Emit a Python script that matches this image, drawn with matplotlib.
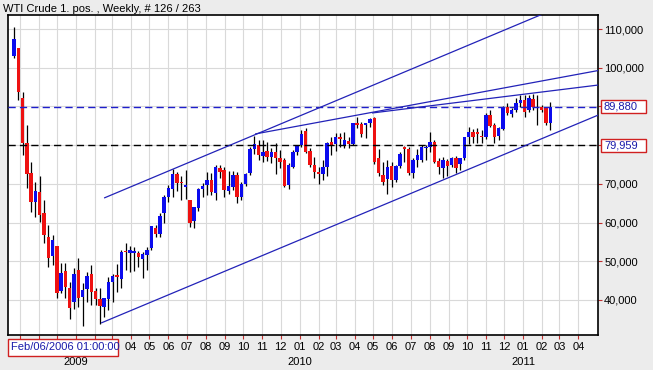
import matplotlib
matplotlib.use("Agg")
import matplotlib.pyplot as plt
import matplotlib.transforms as mtransforms
from matplotlib.patches import Rectangle
from datetime import date

plt.rcParams['font.family'] = ['Liberation Sans', 'DejaVu Sans']
plt.rcParams['lines.scale_dashes'] = False

# ---------------- data ----------------
title = "WTI Crude 1. pos. , Weekly, # 126 / 263"
start_date = date(2008, 9, 22)   # first weekly bar

opens = [103.1, 105.0, 92.1, 80.6, 72.7, 65.2, 67.8, 62.4, 56.35, 51.4,
         53.9, 42.3, 47.5, 43.2, 39.4, 47.7, 40.85, 42.8, 46.7, 42.4,
         40.25, 38.2, 40.25, 44.6, 46.4, 45.4, 52.6, 52.2, 52.2, 52.2,
         50.6, 51.6, 53.3, 58.7, 57.0, 62.4, 66.7, 68.6, 72.5, 70.6,
         69.3, 65.8, 60.5, 63.7, 68.6, 69.7, 71.0, 67.7, 74.0, 73.6,
         68.2, 69.1, 72.3, 66.7, 70.0, 72.7, 78.9, 80.0, 77.2, 78.6,
         76.9, 78.3, 76.6, 76.2, 69.7, 74.4, 78.3, 80.0, 83.7, 78.6,
         74.9, 73.1, 72.5, 74.4, 80.9, 80.3, 82.0, 80.0, 81.1, 80.3,
         85.8, 85.5, 85.2, 85.6, 86.9, 76.6, 72.3, 71.2, 74.6, 71.0,
         74.6, 79.4, 78.9, 72.7, 76.2, 76.2, 79.2, 79.4, 80.9, 76.0,
         74.0, 76.0, 74.9, 76.8, 75.1, 76.8, 82.2, 83.5, 83.5, 82.2,
         82.0, 87.8, 85.2, 82.4, 84.1, 89.9, 88.0, 89.2, 90.8, 91.7,
         89.2, 91.8, 89.9, 89.9, 89.5, 85.8]
highs = [110.6, 105.2, 93.6, 85.2, 75.7, 70.5, 72.0, 65.8, 59.4, 56.8,
         53.9, 49.5, 49.5, 44.7, 48.2, 50.8, 44.3, 47.3, 49.0, 43.2,
         43.0, 40.6, 46.0, 46.6, 49.3, 52.9, 54.8, 54.0, 53.8, 52.7,
         52.3, 53.8, 59.1, 59.4, 62.4, 67.1, 69.7, 73.8, 73.1, 71.9,
         73.6, 65.8, 64.1, 68.8, 70.1, 73.1, 72.7, 74.9, 74.9, 74.4,
         73.4, 73.4, 73.1, 70.6, 72.7, 79.6, 82.4, 81.3, 81.3, 80.9,
         79.2, 80.6, 78.7, 76.6, 75.5, 78.7, 80.0, 83.9, 84.3, 79.2,
         77.0, 74.4, 76.2, 80.9, 82.2, 83.2, 83.2, 83.5, 82.2, 85.8,
         87.3, 86.1, 85.8, 86.9, 87.3, 78.9, 75.7, 76.2, 75.7, 74.9,
         78.3, 79.8, 79.4, 76.6, 78.9, 80.0, 80.0, 83.5, 81.3, 76.8,
         77.0, 76.3, 77.0, 77.2, 76.8, 82.2, 84.6, 84.1, 84.3, 83.9,
         88.2, 89.1, 85.8, 84.8, 90.1, 91.0, 89.5, 92.1, 92.9, 92.9,
         92.9, 93.2, 92.9, 90.4, 89.9, 91.2]
lows = [102.4, 91.7, 77.5, 68.8, 62.8, 61.5, 60.2, 54.6, 48.4, 49.0,
        40.6, 41.7, 40.4, 35.1, 37.7, 38.3, 33.4, 39.6, 38.7, 38.7,
        33.7, 35.7, 37.4, 39.6, 42.1, 43.0, 47.7, 47.3, 47.6, 48.4,
        45.8, 47.7, 52.9, 56.2, 56.2, 59.8, 65.4, 66.7, 68.2, 65.8,
        66.0, 58.8, 58.5, 63.0, 66.7, 67.1, 67.1, 65.8, 71.4, 66.7,
        67.5, 68.4, 65.0, 65.7, 69.4, 72.3, 77.7, 76.2, 75.7, 76.0,
        75.3, 72.5, 74.0, 69.1, 68.6, 74.0, 77.5, 79.6, 77.9, 74.4,
        71.4, 70.0, 71.0, 71.9, 77.5, 78.6, 79.6, 79.2, 79.2, 80.0,
        84.3, 82.2, 81.8, 84.8, 75.1, 72.0, 69.7, 67.4, 69.3, 70.6,
        74.0, 75.7, 72.3, 71.4, 74.4, 75.7, 76.2, 78.3, 75.3, 72.5,
        71.4, 71.9, 74.4, 72.7, 73.7, 76.2, 80.3, 80.5, 80.5, 80.5,
        81.5, 84.6, 80.5, 81.3, 83.9, 87.8, 87.2, 88.6, 89.9, 87.3,
        88.6, 89.1, 85.2, 88.6, 85.2, 83.9]
closes = [107.4, 93.6, 80.6, 72.5, 65.2, 68.2, 61.95, 56.8, 50.75, 55.5,
          41.7, 46.9, 43.4, 38.0, 46.8, 40.6, 42.6, 46.2, 42.1, 40.2,
          38.5, 40.4, 44.7, 46.2, 46.0, 52.3, 52.3, 52.9, 52.7, 51.0,
          51.9, 52.9, 59.1, 57.0, 61.7, 66.7, 68.8, 72.5, 70.3, 70.1,
          69.6, 60.0, 64.1, 68.6, 69.4, 71.0, 68.0, 74.4, 73.1, 68.4,
          69.4, 72.3, 66.7, 70.0, 72.5, 78.9, 80.2, 77.5, 78.1, 76.9,
          78.1, 76.6, 75.7, 69.4, 74.9, 78.3, 79.8, 83.0, 78.3, 74.9,
          73.1, 72.5, 74.4, 80.5, 80.0, 82.2, 81.6, 81.3, 80.3, 85.6,
          85.2, 82.9, 85.6, 86.7, 75.7, 72.7, 70.6, 74.4, 71.0, 74.6,
          77.7, 78.9, 72.7, 76.2, 77.5, 79.6, 79.6, 80.9, 75.7, 74.3,
          76.2, 74.6, 76.6, 74.0, 76.6, 82.0, 83.5, 82.2, 83.0, 82.0,
          87.8, 84.9, 82.2, 84.3, 89.8, 88.2, 89.1, 91.0, 91.7, 88.6,
          92.1, 89.8, 89.5, 89.1, 85.6, 89.9]

# horizontal price levels
level_blue = 89.88
level_black = 79.959
level_blue_label = "89,880"
level_black_label = "79,959"

# trend lines: (bar_start, price_start, bar_end, price_end)
trend_upper = (21.0, 66.34, 136.2, 119.9)
trend_lower = (20.3, 34.05, 136.2, 87.78)
trend_top1 = (56.2, 82.88, 136.2, 99.28)
trend_top2 = (83.45, 88.3, 136.2, 95.53)

y_ticks = [40, 50, 60, 70, 80, 90, 100, 110]
y_tick_labels = ["40,000", "50,000", "60,000", "70,000", "", "", "100,000", "110,000"]
first_labeled_month = (2009, 4)
corner_label = "Feb/06/2006 01:00:00"

# ---------------- layout ----------------
W, H = 653, 370
fig = plt.figure(figsize=(W / 100, H / 100), dpi=100, facecolor='#ECECEC')
ax = fig.add_axes([8 / W, 1 - 335 / H, 590 / W, 320 / H])
ax.set_facecolor('white')
ax.set_xlim(-1.4, 136.13)
ax.set_ylim(30.95, 113.62)

def px(x, y):
    return x / W, 1 - y / H

# month positions (continuous time, in bar units)
months = []
y_, m_ = 2008, 10
while (y_, m_) <= (2011, 4):
    months.append((y_, m_))
    m_ += 1
    if m_ > 12:
        m_ = 1
        y_ += 1
month_pos = [(date(yy, mm, 1) - start_date).days / 7.0 for yy, mm in months]
month_labels = [f"{mm:02d}" if (yy, mm) >= first_labeled_month else "" for yy, mm in months]

ax.set_xticks(month_pos)
ax.set_xticklabels(month_labels)
ax.set_yticks(y_ticks)
ax.set_yticklabels(y_tick_labels)
ax.yaxis.tick_right()
ax.tick_params(axis='both', colors='#C03030', length=3, width=0.8, labelsize=8,
               labelcolor='black', direction='out')
ax.tick_params(axis='y', pad=1.5)
ax.tick_params(axis='x', pad=2)
ax.grid(True, color='#D9D9D9', linewidth=0.8, zorder=0)
ax.set_axisbelow(True)
for s in ax.spines.values():
    s.set_color('black')
    s.set_linewidth(1.2)

# year labels
trans = mtransforms.blended_transform_factory(ax.transData, fig.transFigure)
for yy, mm in months:
    if mm == 1:
        p = (date(yy, 1, 1) - start_date).days / 7.0
        fig.text(p, 1 - 362 / H, str(yy), transform=trans, ha='center', va='center', fontsize=8)

# ---------------- candles ----------------
idx = list(range(len(opens)))
ax.vlines(idx, lows, highs, color='black', linewidth=0.9, zorder=3)
bottoms = [min(o, c) for o, c in zip(opens, closes)]
heights = [max(abs(c - o), 0.25) for o, c in zip(opens, closes)]
colors = ['#0B0BEE' if c > o else '#EE1111' for o, c in zip(opens, closes)]
ax.bar(idx, heights, bottom=bottoms, width=0.8, color=colors, linewidth=0, zorder=4)

# ---------------- levels & trend lines ----------------
ax.axhline(level_blue, color='#1E1ECC', linewidth=1.0, linestyle=(0, (5.2, 3.0)), zorder=5)
ax.axhline(level_black, color='black', linewidth=1.0, linestyle=(0, (5.2, 3.0)), zorder=5)
for t in (trend_upper, trend_lower, trend_top1, trend_top2):
    ax.plot([t[0], t[2]], [t[1], t[3]], color='#2222B8', linewidth=0.9, zorder=6,
            solid_capstyle='butt')

# ---------------- boxes ----------------
def box(x0, y0, x1, y1, text, tx):
    fx0, fy1 = px(x0, y1)
    fx1, fy0 = px(x1, y0)
    fig.add_artist(Rectangle((fx0, fy1), fx1 - fx0, fy0 - fy1, transform=fig.transFigure,
                             facecolor='white', edgecolor='#D02020', linewidth=1.0, zorder=10))
    fig.text(tx / W, 1 - ((y0 + y1) / 2) / H, text, ha='left', va='center',
             fontsize=8, color='#1A1AAA', zorder=11)

box(601, 100, 646, 113, level_blue_label, 604)
box(601, 139, 646, 152, level_black_label, 604)
box(8, 339, 118, 356, corner_label, 11)

fig.text(3 / W, 1 - 9 / H, title, ha='left', va='center', fontsize=8.0, color='black')

fig.savefig("out.png", dpi=100, facecolor=fig.get_facecolor())
